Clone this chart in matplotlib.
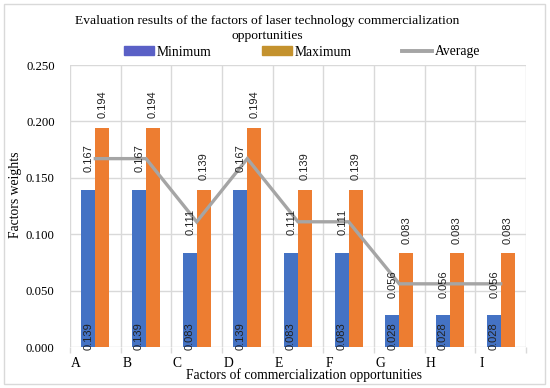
import matplotlib
matplotlib.use("Agg")
import matplotlib.pyplot as plt
import numpy as np
from matplotlib.patches import FancyBboxPatch
from matplotlib.lines import Line2D
from matplotlib.patches import Patch

categories = ["A", "B", "C", "D", "E", "F", "G", "H", "I"]
minimum = [0.139, 0.139, 0.083, 0.139, 0.083, 0.083, 0.028, 0.028, 0.028]
maximum = [0.194, 0.194, 0.139, 0.194, 0.139, 0.139, 0.083, 0.083, 0.083]
average = [0.167, 0.167, 0.111, 0.167, 0.111, 0.111, 0.056, 0.056, 0.056]
yticks = [0.000, 0.050, 0.100, 0.150, 0.200, 0.250]

BLUE = "#4472C4"
ORANGE = "#ED7D31"
GRAY = "#A5A5A5"
GRID = "#D9D9D9"
LEG_BLUE = "#5A60C6"
LEG_ORANGE = "#C4922E"
SERIF = "Liberation Serif"
SANS = "Liberation Sans"

W, H = 550, 388
fig = plt.figure(figsize=(W / 100, H / 100), dpi=100)
ax = fig.add_axes([70 / W, 1 - 347 / H, (526 - 70) / W, (347 - 65) / H])

x = np.arange(len(categories))
bw = 0.276
ax.bar(x - bw / 2, minimum, bw, color=BLUE, zorder=3)
ax.bar(x + bw / 2, maximum, bw, color=ORANGE, zorder=3)
ax.plot(x, average, color=GRAY, lw=2.4, zorder=4, solid_joinstyle="miter")

for xi, v in zip(x, minimum):
    ax.annotate(f"{v:.3f}", (xi - bw / 2, 0), xytext=(0, -2), textcoords="offset points",
                rotation=90, ha="center", va="bottom", fontsize=8, family=SANS,
                color="#222222", zorder=5)
for xi, v in zip(x, maximum):
    ax.annotate(f"{v:.3f}", (xi + bw / 2, v), xytext=(0, 7), textcoords="offset points",
                rotation=90, ha="center", va="bottom", fontsize=8, family=SANS,
                color="#222222", zorder=5)
for xi, v in zip(x, average):
    ax.annotate(f"{v:.3f}", (xi, v), xytext=(-4.5, 0), textcoords="offset points",
                rotation=90, ha="center", va="center", fontsize=8, family=SANS,
                color="#222222", zorder=5)

ax.set_xlim(-0.5, len(categories) - 0.5)
ax.set_ylim(0, 0.25)
ax.set_yticks(yticks)
ax.set_yticklabels([f"{t:.3f}" for t in yticks], family=SERIF, fontsize=9.2)
ax.yaxis.grid(True, color=GRID, lw=1, zorder=0)
ax.tick_params(axis="y", length=0, pad=11)

ax.set_xticks(np.arange(len(categories) + 1) - 0.5, minor=True)
ax.xaxis.grid(True, which="minor", color=GRID, lw=1, zorder=0)
ax.tick_params(axis="x", which="minor", length=4, color=GRID, width=1)
ax.set_xticks(x - 0.38)
ax.set_xticklabels(categories, family=SERIF, fontsize=9.8)
ax.tick_params(axis="x", which="major", length=0, pad=7)

for s in ax.spines.values():
    s.set_visible(False)

fig.text(16 / W, 1 - 195 / H, "Factors weights", family=SERIF, fontsize=9.8,
         rotation=90, ha="center", va="center")
fig.text(304 / W, 1 - 375 / H, "Factors of commercialization opportunities",
         family=SERIF, fontsize=9.8, ha="center", va="center")

fig.text(267 / W, 1 - 28.5 / H,
         "Evaluation results of the factors of laser technology commercialization\nopportunities",
         family=SERIF, fontsize=9.7, ha="center", va="center", linespacing=1.3)

handles = [Patch(color=LEG_BLUE, label="Minimum"), Patch(color=LEG_ORANGE, label="Maximum"),
           Line2D([0], [0], color=GRAY, lw=2.8, label="Average")]
fig.legend(handles=handles, loc="center", bbox_to_anchor=(302 / W, 1 - 52 / H), ncol=3,
           frameon=False, prop={"family": SERIF, "size": 9.8}, columnspacing=3.7,
           handlelength=2.2, handleheight=0.6, handletextpad=0.2,
           borderpad=0, borderaxespad=0)

fig.patches.append(FancyBboxPatch((4 / W, 4 / H), 541 / W, 380 / H,
                                  boxstyle="square,pad=0", transform=fig.transFigure,
                                  fill=False, edgecolor="#D9D9D9", lw=1))

fig.savefig("out.png", dpi=100)
